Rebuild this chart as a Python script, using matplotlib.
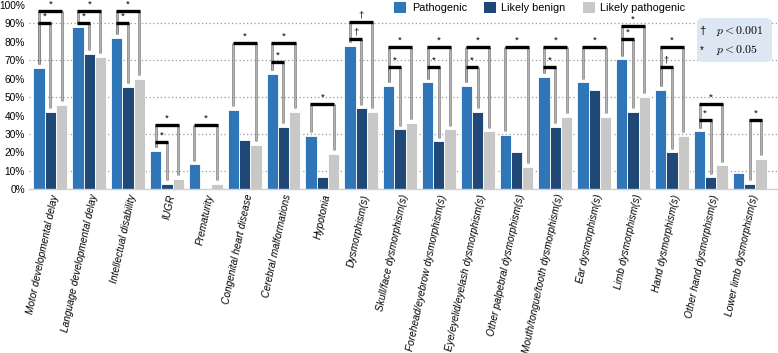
import numpy as np
import matplotlib
matplotlib.use("Agg")
import matplotlib.pyplot as plt
from matplotlib.patches import FancyBboxPatch, Patch
import matplotlib.patheffects as pe

plt.rcParams['font.family'] = ['Liberation Sans', 'DejaVu Sans']
plt.rcParams['mathtext.fontset'] = 'cm'

categories = [
    "Motor developmental delay",
    "Language developmental delay",
    "Intellectual disability",
    "IUGR",
    "Prematurity",
    "Congenital heart disease",
    "Cerebral malformations",
    "Hypotonia",
    "Dysmorphism(s)",
    "Skull/face dysmorphism(s)",
    "Forehead/eyebrow dysmorphism(s)",
    "Eye/eyelid/eyelash dysmorphism(s)",
    "Other palpebral dysmorphism(s)",
    "Mouth/tongue/tooth dysmorphism(s)",
    "Ear dysmorphism(s)",
    "Limb dysmorphism(s)",
    "Hand dysmorphism(s)",
    "Other hand dysmorphism(s)",
    "Lower limb dysmorphism(s)",
]
pathogenic = [66, 88, 82, 21, 13.5, 43, 62.5, 29, 78, 56, 58, 56, 29.5, 61, 58, 70.5, 54, 31.5, 9]
likely_benign = [42, 73.5, 55.5, 2.8, 0, 26.5, 34, 6.5, 44, 32.5, 26, 42, 20, 34, 54, 42, 20, 6.5, 3]
likely_pathogenic = [46, 72, 60, 5.5, 3, 24, 42, 19.3, 42, 36, 32.5, 31.5, 12, 39.5, 39.5, 50, 29, 13, 16.5]
series_names = ["Pathogenic", "Likely benign", "Likely pathogenic"]
y_ticks = list(range(0, 101, 10))

# significance brackets: (group, bar a, bar b, level in %, symbol)
brackets = [
    (0, 0, 1, 90.5, '*'), (0, 0, 2, 97, '*'),
    (1, 0, 1, 90.5, '*'), (1, 0, 2, 97, '*'),
    (2, 0, 1, 90.5, '*'), (2, 0, 2, 97, '*'),
    (3, 0, 1, 25.8, '*'), (3, 0, 2, 35, '*'),
    (4, 0, 2, 35, '*'),
    (5, 0, 2, 79.5, '*'),
    (6, 0, 1, 68.9, '*'), (6, 0, 2, 79.5, '*'),
    (7, 0, 2, 46.3, '*'),
    (8, 0, 1, 81.7, '\u2020'), (8, 0, 2, 90.7, '\u2020'),
    (9, 0, 1, 66.3, '*'), (9, 0, 2, 77.2, '*'),
    (10, 0, 1, 66.3, '*'), (10, 0, 2, 77.2, '*'),
    (11, 0, 1, 66.3, '*'), (11, 0, 2, 77.2, '*'),
    (12, 0, 2, 77.2, '*'),
    (13, 0, 1, 66.3, '*'), (13, 0, 2, 77.2, '*'),
    (14, 0, 2, 77.2, '*'),
    (15, 0, 1, 81.7, '*'), (15, 0, 2, 88.7, '*'),
    (16, 0, 1, 66.3, '\u2020'), (16, 0, 2, 77.2, '*'),
    (17, 0, 1, 37.6, '*'), (17, 0, 2, 46.1, '*'),
    (18, 1, 2, 37.6, '*'),
]

BLUE = "#2f76b9"
NAVY = "#1f4877"
GREY = "#c8c8c8"
colors = [BLUE, NAVY, GREY]

W, H = 778, 353
fig = plt.figure(figsize=(W / 100, H / 100), dpi=100)
ax = fig.add_axes([29 / W, 1 - 189.3 / H, 1 - 29 / W, (189.3 - 5) / H])

x = np.arange(len(categories))
width = 0.29
offsets = [-width, 0, width]
series = [pathogenic, likely_benign, likely_pathogenic]

for yv in [10, 30, 50, 70, 90]:
    ax.axhline(yv, color='#9a9a9a', linestyle=(0, (1, 2)), linewidth=0.9, zorder=0)

for s, vals in enumerate(series):
    ax.bar(x + offsets[s], vals, width, color=colors[s], edgecolor='white',
           linewidth=0.6, zorder=2, label=series_names[s])

gap = 2.0
for g, a, b, level, sym in brackets:
    xa = x[g] + offsets[a]
    xb = x[g] + offsets[b]
    for xi, bi in ((xa, a), (xb, b)):
        ax.plot([xi, xi], [series[bi][g] + gap, level], color='#b4b4b4', linewidth=0.8,
                zorder=3, solid_capstyle='butt',
                path_effects=[pe.Stroke(linewidth=1.8, foreground='#7a7a7a'), pe.Normal()])
    ax.plot([xa - 0.02, xb + 0.02], [level, level], color='black', linewidth=2.4,
            zorder=4, solid_capstyle='butt')
    ax.text((xa + xb) / 2, level + 1.2, sym, ha='center', va='bottom', fontsize=6.8,
            color='black', zorder=5)

ax.set_xlim(-0.55, 18.73)
ax.set_ylim(0, 100)
ax.set_yticks(y_ticks)
ax.set_yticklabels([f"{v}%" for v in y_ticks], fontsize=7.3)
ax.set_xticks(x)
ax.set_xticklabels(categories, rotation=78, ha='right', va='top', rotation_mode='anchor',
                   fontsize=7.3, style='italic')
ax.tick_params(axis='both', length=0, pad=3)
for side in ['top', 'right', 'left']:
    ax.spines[side].set_visible(False)
ax.spines['bottom'].set_color('#d0d0d0')
ax.spines['bottom'].set_linewidth(1.0)
ax.patch.set_alpha(0)

handles = [Patch(facecolor=c, edgecolor='none') for c in colors]
fig.legend(handles, series_names, loc='upper left', bbox_to_anchor=(390 / W, 1 + 2 / H),
           ncol=3, frameon=False, fontsize=7.8, handlelength=1.1, handleheight=1.1,
           handletextpad=0.5, columnspacing=1.6, borderaxespad=0)

box = FancyBboxPatch((697 / W, 1 - 62 / H), 75 / W, 44 / H,
                     boxstyle="round,pad=0,rounding_size=0.012",
                     transform=fig.transFigure, facecolor='#dce7f3', edgecolor='none')
fig.patches.append(box)
fig.text(702 / W, 1 - 31 / H, '\u2020', fontsize=8, ha='center', va='center')
fig.text(716 / W, 1 - 31 / H, r'$p < 0.001$', fontsize=8.5, ha='left', va='center')
fig.text(702 / W, 1 - 50 / H, '*', fontsize=7, ha='center', va='center')
fig.text(716 / W, 1 - 50 / H, r'$p < 0.05$', fontsize=8.5, ha='left', va='center')

fig.savefig("out.png", dpi=100)
